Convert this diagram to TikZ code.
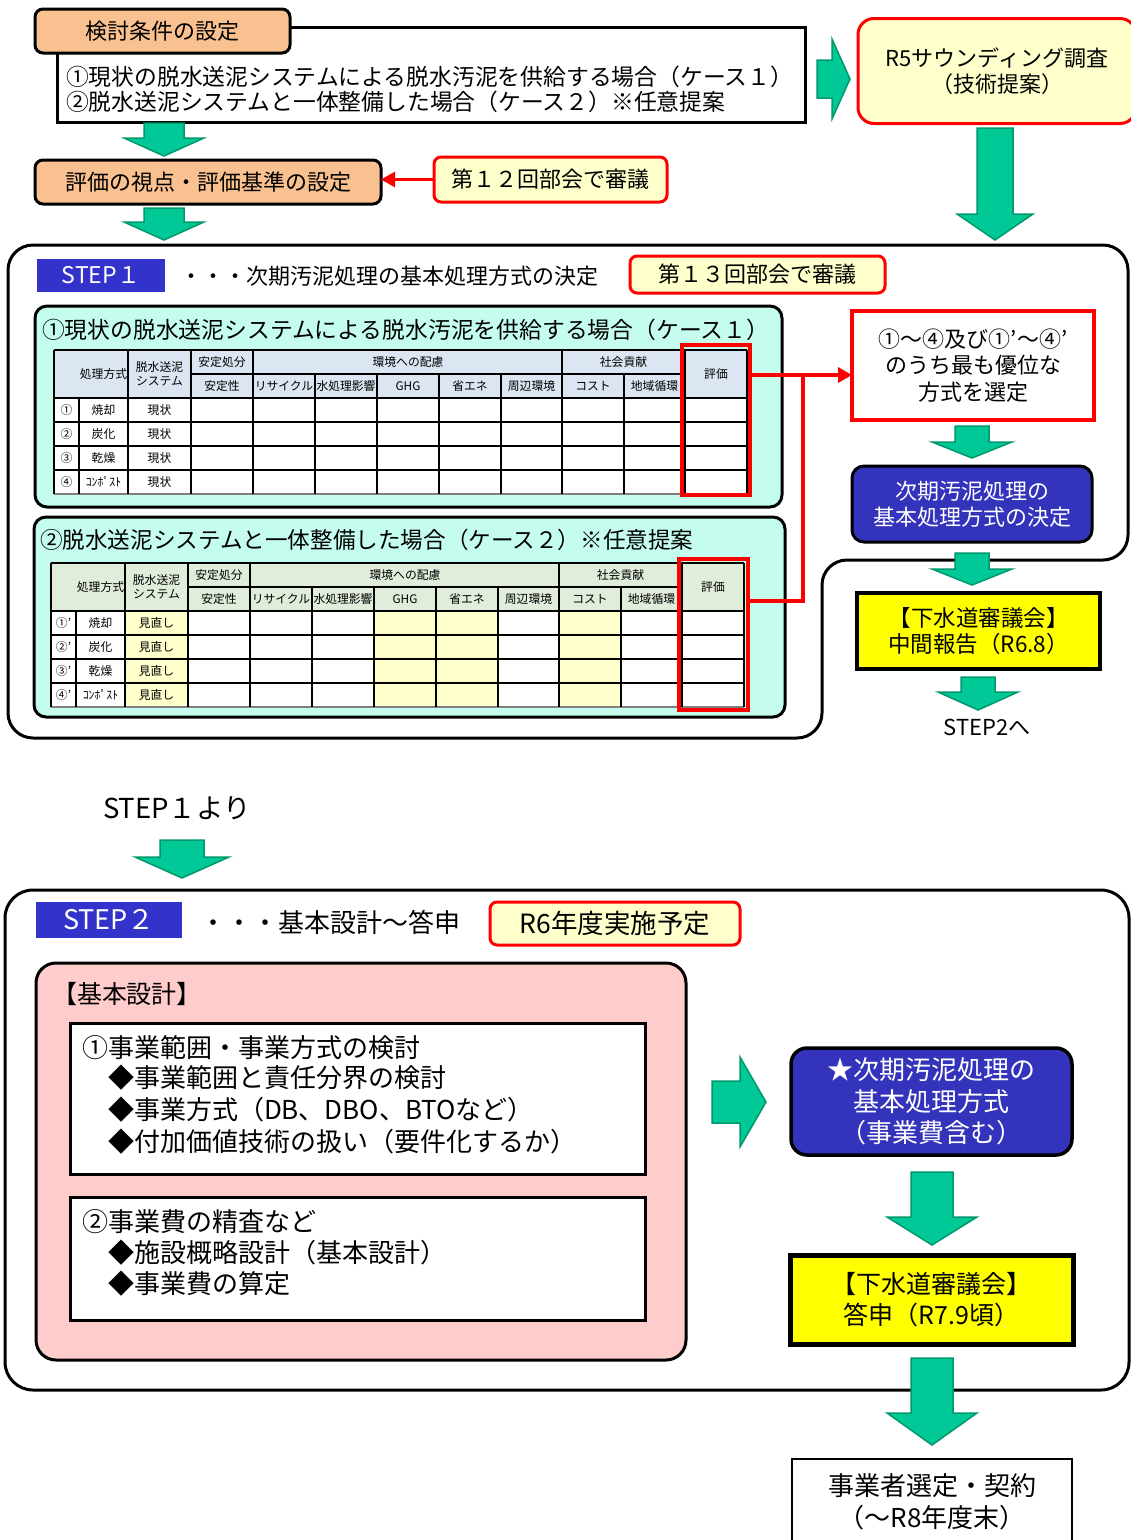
\documentclass[tikz,border=0pt]{standalone}
\usepackage{fontspec}
\setmainfont{Noto Sans CJK JP}
\usetikzlibrary{arrows.meta}
\definecolor{orangeC}{HTML}{F9C090}
\definecolor{lyel}{HTML}{FFFFCC}
\definecolor{aquaC}{HTML}{C4FDEE}
\definecolor{blueC}{HTML}{3333BB}
\definecolor{stepblue}{HTML}{3333CC}
\definecolor{redC}{HTML}{FF0000}
\definecolor{pinkC}{HTML}{FFCCCC}
\definecolor{gfill}{HTML}{00C896}
\definecolor{gdraw}{HTML}{00996B}
\definecolor{hdrA}{HTML}{DCE6F2}
\definecolor{hdrB}{HTML}{E0EDDB}
\definecolor{cellY}{HTML}{FFFFCC}
\definecolor{yelC}{HTML}{FFFF00}
\newcommand\myfs[2]{\fontsize{#1}{#2}\selectfont}
% down block arrow: cx, top, shaft half, head half, head y, tip y
\newcommand\gdown[6]{\draw[garrow] ({#1-#3},#2) -- ({#1+#3},#2) -- ({#1+#3},#5) -- ({#1+#4},#5) -- (#1,#6) -- ({#1-#4},#5) -- ({#1-#3},#5) -- cycle;}
% right block arrow: x0, cy, shaft half, head half, head x, tip x
\newcommand\gright[6]{\draw[garrow] (#1,{#2-#3}) -- (#5,{#2-#3}) -- (#5,{#2-#4}) -- (#6,#2) -- (#5,{#2+#4}) -- (#5,{#2+#3}) -- (#1,{#2+#3}) -- cycle;}
% table: shift, prefix, header colour, system text, prime, highlight
\newcommand\casetable[6]{%
\begin{scope}[shift={#1}]
\fill[#3] (54,350) rectangle (747,398);
\fill[white] (54,398) rectangle (747,494);
\ifnum#6=1
\fill[cellY] (128,398) rectangle (191,494);
\fill[cellY] (377,398) rectangle (501,494);
\fill[cellY] (562,398) rectangle (624,494);
\fi
\draw[tbl] (54,350) -- (747,350);
\draw[tbl] (191,374) -- (685,374);
\foreach \yy in {398,422,446,470} {\draw[tbl] (54,\yy) -- (747,\yy);}
\draw[tbl, draw=gray] (54,494) -- (747,494);
\foreach \xx in {54,128,191,253,562,685,747} {\draw[tbl] (\xx,350) -- (\xx,494);}
\foreach \xx in {315,377,439,501,624} {\draw[tbl] (\xx,374) -- (\xx,494);}
\draw[tbl] (79,398) -- (79,494);
\node[tsm] (#2h1) at (103.5,374) {処理方式};
\node[tsm, align=center] (#2h2) at (159.5,374) {脱水送泥\\システム};
\node[tsm] (#2h3) at (222,362) {安定処分};
\node[tsm] (#2h4) at (408,362) {環境への配慮};
\node[tsm] (#2h5) at (623.5,362) {社会貢献};
\node[tsm] (#2h6) at (716,374) {評価};
\node[tsm] (#2c3) at (222,386) {安定性};
\node[tsm] (#2c4) at (284,386) {リサイクル};
\node[tsm] (#2c5) at (346,386) {水処理影響};
\node[tsm] (#2c6) at (408,386) {GHG};
\node[tsm] (#2c7) at (470,386) {省エネ};
\node[tsm] (#2c8) at (531.5,386) {周辺環境};
\node[tsm] (#2c9) at (593,386) {コスト};
\node[tsm] (#2c10) at (654.5,386) {地域循環};
\foreach \i/\m/\n in {1/①/焼却,2/②/炭化,3/③/乾燥,4/④/ｺﾝﾎﾟｽﾄ} {
  \node[tsm] (#2m\i) at (66.5,{386+24*\i}) {\m#5};
  \node[tsm] (#2n\i) at (103.5,{386+24*\i}) {\n};
  \node[tsm] (#2s\i) at (159.5,{386+24*\i}) {#4};
}
\end{scope}}
\begin{document}
\begin{tikzpicture}[x=1pt,y=-1pt,
  every node/.style={inner sep=0pt, outer sep=0pt},
  t22/.style={font=\myfs{22}{26.5}},
  t26/.style={font=\myfs{26}{31.5}},
  tsm/.style={font=\myfs{11.8}{13.5}},
  tbl/.style={draw=black, line width=1.2pt},
  frm/.style={draw=black, line width=3pt},
  garrow/.style={fill=gfill, draw=gdraw, line width=1.5pt, line join=miter},
  obox/.style={draw=black, line width=3pt, fill=orangeC, rounded corners=8pt, t22},
  rbox/.style={draw=redC, line width=3pt, fill=lyel, rounded corners=7pt, t22, align=center},
  bbox/.style={draw=black, line width=3pt, fill=blueC, rounded corners=12pt, text=white, t22, align=center},
  ybox/.style={draw=black, fill=yelC, t22, align=center},
  panel/.style={draw=black, line width=3pt, fill=aquaC, rounded corners=12pt},
  redln/.style={draw=redC, line width=4pt},
  redar/.style={draw=redC, line width=3pt, -{Triangle[length=14pt,width=15pt]}}
]
\useasboundingbox (0,0) rectangle (1131,1540);
\fill[white] (0,0) rectangle (1131,1540);

% ---------- top ----------
\node[draw=black, line width=3pt, fill=white, minimum width=748pt, minimum height=95pt] (cond) at (431,74.5) {};
\node[anchor=west, align=left, font=\myfs{22.8}{25.5}] (condtxt) at (66,89.5) {①現状の脱水送泥システムによる脱水汚泥を供給する場合（ケース１）\\②脱水送泥システムと一体整備した場合（ケース２）※任意提案};
\node[obox, minimum width=255pt, minimum height=44pt] (n1) at (162.5,31) {検討条件の設定};
\gdown{164}{123}{20}{40}{138}{156}
\node[obox, minimum width=346pt, minimum height=44pt] (n2) at (208,182) {評価の視点・評価基準の設定};
\node[rbox, minimum width=233pt, minimum height=45pt] (r12) at (550.5,179.5) {第１２回部会で審議};
\draw[redar] (r12.west) -- (r12.west -| n2.east);
\gdown{164}{208}{20}{40}{222}{240}

\node[rbox, rounded corners=16pt, minimum width=278pt, minimum height=105pt] (r5) at (997,71) {R5サウンディング調査\\（技術提案）};
\gright{817}{79}{19}{40}{832}{850}
\gdown{995}{128}{18}{38}{214}{240}

% ---------- STEP1 ----------
\draw[frm, rounded corners=25pt] (400,245) -- (1128,245) -- (1128,560) -- (822,560) -- (822,738) -- (8,738) -- (8,245) -- cycle;
\node[fill=stepblue, minimum width=128pt, minimum height=33pt, text=white, font=\myfs{23}{26.5}] (s1) at (101,275.5) {STEP１};
\node[anchor=west, t22] (s1t) at (180,276) {・・・次期汚泥処理の基本処理方式の決定};
\node[rbox, minimum width=255pt, minimum height=37pt] (r13) at (757.5,274.5) {第１３回部会で審議};

\node[panel, minimum width=747pt, minimum height=201pt] (p1) at (408.5,406.5) {};
\node[anchor=west, font=\myfs{22.8}{26}] (p1t) at (42,330) {①現状の脱水送泥システムによる脱水汚泥を供給する場合（ケース１）};
\casetable{(0,0)}{ta}{hdrA}{現状}{}{0}
\node[draw=redC, line width=4pt, minimum width=68pt, minimum height=150pt] (ev1) at (716,420) {};

\node[panel, minimum width=751pt, minimum height=200pt] (p2) at (409.5,617) {};
\node[anchor=west, font=\myfs{22.6}{26}] (p2t) at (40,540) {②脱水送泥システムと一体整備した場合（ケース２）※任意提案};
\casetable{(-3,213)}{tb}{hdrB}{見直し}{’}{1}
\node[draw=redC, line width=4pt, minimum width=69pt, minimum height=151pt] (ev2) at (713.5,634.5) {};

\node[draw=redC, line width=4pt, fill=white, minimum width=242pt, minimum height=109pt, align=center, t22] (sel) at (973,365.5) {①～④及び①’～④’\\のうち最も優位な\\方式を選定};
\coordinate (j1) at (803,375);
\coordinate (j2) at (803,601);
\draw[redln] (ev2.east |- j2) -- (j2) -- (j1) -- (ev1.east |- j1);
\draw[redar, line width=4pt] (j1) -- (j1 -| sel.west);

\gdown{972}{426}{17}{40}{442}{458}
\node[bbox, minimum width=240pt, minimum height=76pt] (dec1) at (972,504) {次期汚泥処理の\\基本処理方式の決定};
\gdown{972}{553}{17}{40}{569}{585}
\node[ybox, line width=4.5pt, minimum width=243pt, minimum height=76pt, font=\myfs{22.5}{26.5}] (mid) at (978.5,631) {【下水道審議会】\\中間報告（R6.8）};
\gdown{978}{677}{17}{40}{692}{710}
\node[t22] (to2) at (987,727) {STEP2へ};

% ---------- STEP2 ----------
\node[anchor=west, font=\myfs{27.5}{31.5}] (from1) at (103,808) {STEP１より};
\gdown{182}{840}{22}{47}{857}{878}
\draw[frm, rounded corners=28pt] (400,890) -- (1129,890) -- (1129,1390) -- (5,1390) -- (5,890) -- cycle;
\node[fill=stepblue, minimum width=146pt, minimum height=36pt, text=white, font=\myfs{27}{31}] (s2) at (109,920) {STEP２};
\node[anchor=west, t26] (s2t) at (200,922) {・・・基本設計～答申};
\node[rbox, minimum width=250pt, minimum height=43pt, font=\myfs{26.5}{31}] (r6) at (615,923.5) {R6年度実施予定};

\node[draw=black, line width=3pt, fill=pinkC, rounded corners=20pt, minimum width=650pt, minimum height=397pt] (pink) at (361,1161.5) {};
\node[anchor=west, font=\myfs{25}{30}] (kt) at (52,994) {【基本設計】};
\node[draw=black, line width=3pt, fill=white, minimum width=575pt, minimum height=151pt] (bx1) at (357.5,1098.5) {};
\node[anchor=west, t26] (b1a) at (82,1048) {①事業範囲・事業方式の検討};
\node[anchor=west, t26] (b1b) at (108,1078) {◆事業範囲と責任分界の検討};
\node[anchor=west, t26] (b1c) at (108,1110) {◆事業方式（DB、DBO、BTOなど）};
\node[anchor=west, t26] (b1d) at (108,1142) {◆付加価値技術の扱い（要件化するか）};
\node[draw=black, line width=3pt, fill=white, minimum width=575pt, minimum height=123pt] (bx2) at (357.5,1258.5) {};
\node[anchor=west, t26] (b2a) at (82,1222) {②事業費の精査など};
\node[anchor=west, t26] (b2b) at (108,1253) {◆施設概略設計（基本設計）};
\node[anchor=west, t26] (b2c) at (108,1284) {◆事業費の算定};

\gright{712}{1102}{21}{45}{740}{766}
\node[bbox, rounded corners=16pt, line width=3.5pt, minimum width=281pt, minimum height=107pt, t26] (fin) at (931.5,1101.5) {★次期汚泥処理の\\基本処理方式\\（事業費含む）};
\gdown{932}{1172}{21}{45}{1217}{1245}
\node[ybox, line width=5pt, minimum width=283pt, minimum height=89pt, font=\myfs{25}{31}] (ans) at (931.5,1299.5) {【下水道審議会】\\答申（R7.9頃）};
\gdown{932}{1358}{21}{45}{1413}{1445}
\node[draw=black, line width=2.5pt, fill=white, minimum width=280pt, minimum height=86pt, align=center, t26] (last) at (932,1502) {事業者選定・契約\\（～R8年度末）};
\end{tikzpicture}
\end{document}
